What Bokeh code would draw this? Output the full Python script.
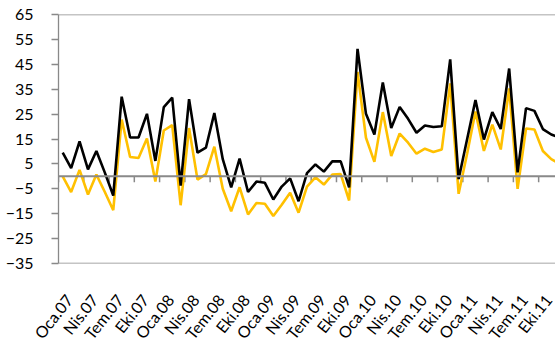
import math
from bokeh.plotting import figure
from bokeh.models import FixedTicker, Span, Range1d
from bokeh.embed import file_html
from bokeh.resources import INLINE

# Monthly series, Oca.07 .. Ara.11 (index 0 = Oca.07)
black_vals = [9.5, 3.3, 14.0, 2.8, 10.2, 1.5, -7.7, 32.0, 15.6, 15.6, 25.1, 6.2, 27.8, 31.6, -3.7,
              31.0, 9.5, 11.5, 25.4, 6.9, -4.4, 7.1, -6.3, -2.1, -2.6, -9.3, -4.1, -0.8, -10.0, 1.3,
              4.8, 1.9, 6.0, 6.0, -4.4, 51.2, 25.1, 16.8, 37.7, 19.4, 27.9, 23.1, 17.5, 20.4, 19.8,
              20.1, 47.0, -1.1, 14.8, 30.7, 14.8, 25.8, 19.0, 43.3, 1.6, 27.4, 26.3, 19.0, 16.8, 15.5]
gold_vals = [0.0, -6.3, 2.6, -7.3, 0.7, -6.3, -13.6, 22.8, 7.8, 7.4, 15.2, -2.1, 18.4, 20.6, -11.6,
             19.4, -1.3, 0.9, 11.9, -5.0, -14.0, -4.4, -15.3, -10.7, -11.0, -15.9, -11.4, -6.6, -14.6, -4.1,
             -0.4, -3.3, 0.7, 0.9, -9.7, 41.9, 15.5, 5.8, 25.8, 8.2, 17.2, 13.5, 9.1, 11.1, 9.8,
             10.8, 37.3, -7.0, 9.0, 26.0, 10.2, 20.8, 10.8, 35.3, -5.0, 19.2, 18.8, 10.2, 6.9, 5.0]
tick_labels = ["Oca.07", "Nis.07", "Tem.07", "Eki.07", "Oca.08", "Nis.08", "Tem.08", "Eki.08",
               "Oca.09", "Nis.09", "Tem.09", "Eki.09", "Oca.10", "Nis.10", "Tem.10", "Eki.10",
               "Oca.11", "Nis.11", "Tem.11", "Eki.11"]
y_ticks = [-35, -25, -15, -5, 5, 15, 25, 35, 45, 55, 65]

x = list(range(len(black_vals)))
LABEL_SHIFT = 0.75  # label anchor shift (in months) so the rotated text ends at its month
label_pos = [3 * i + LABEL_SHIFT for i in range(len(tick_labels))]
boundary_ticks = [3 * i - 0.5 for i in range(len(tick_labels) + 1)]

GRAY = "#898989"
FONT = "Lato"
Y_MIN, Y_MAX = -35, 65
TICK_LEN = 6 * (Y_MAX - Y_MIN) / 252.0  # 6 px in data units

p = figure(width=555, height=351, x_range=Range1d(-0.5, 58.5), y_range=Range1d(Y_MIN, Y_MAX),
           output_backend="svg", toolbar_location=None,
           min_border_left=58, min_border_right=0, min_border_top=14, min_border_bottom=85)
p.outline_line_color = None
p.background_fill_color = "white"
p.border_fill_color = "white"
p.grid.visible = False

# y axis
ya = p.yaxis[0]
ya.ticker = FixedTicker(ticks=y_ticks)
ya.axis_line_color = GRAY
ya.axis_line_width = 1.3
ya.major_tick_line_color = GRAY
ya.major_tick_line_width = 1.3
ya.major_tick_out = 7
ya.major_tick_in = 0
ya.minor_tick_line_color = None
ya.major_label_standoff = 18
ya.major_label_text_font = FONT
ya.major_label_text_font_size = "16px"
ya.major_label_text_color = "black"

# bottom category labels
xa = p.xaxis[0]
xa.ticker = FixedTicker(ticks=label_pos)
xa.major_label_overrides = {pos: lab for pos, lab in zip(label_pos, tick_labels)}
xa.major_label_orientation = 0.9
xa.axis_line_color = None
xa.major_tick_line_color = None
xa.minor_tick_line_color = None
xa.major_label_standoff = 27
xa.major_label_text_font = FONT
xa.major_label_text_font_size = "16px"
xa.major_label_text_color = "black"

# horizontal axis crossing at zero with tick marks
p.add_layout(Span(location=0, dimension="width", line_color=GRAY, line_width=2))
p.segment(x0=boundary_ticks, y0=[0] * len(boundary_ticks), x1=boundary_ticks,
          y1=[-TICK_LEN] * len(boundary_ticks), line_color=GRAY, line_width=1.5)

# plot area border (top and bottom)
p.add_layout(Span(location=Y_MAX, dimension="width", line_color=GRAY, line_width=1.3))
p.add_layout(Span(location=Y_MIN, dimension="width", line_color=GRAY, line_width=1.3))

p.line(x, gold_vals, line_color="#FFC000", line_width=2.6)
p.line(x, black_vals, line_color="black", line_width=2.6)

open("out.html", "w").write(file_html(p, INLINE))
